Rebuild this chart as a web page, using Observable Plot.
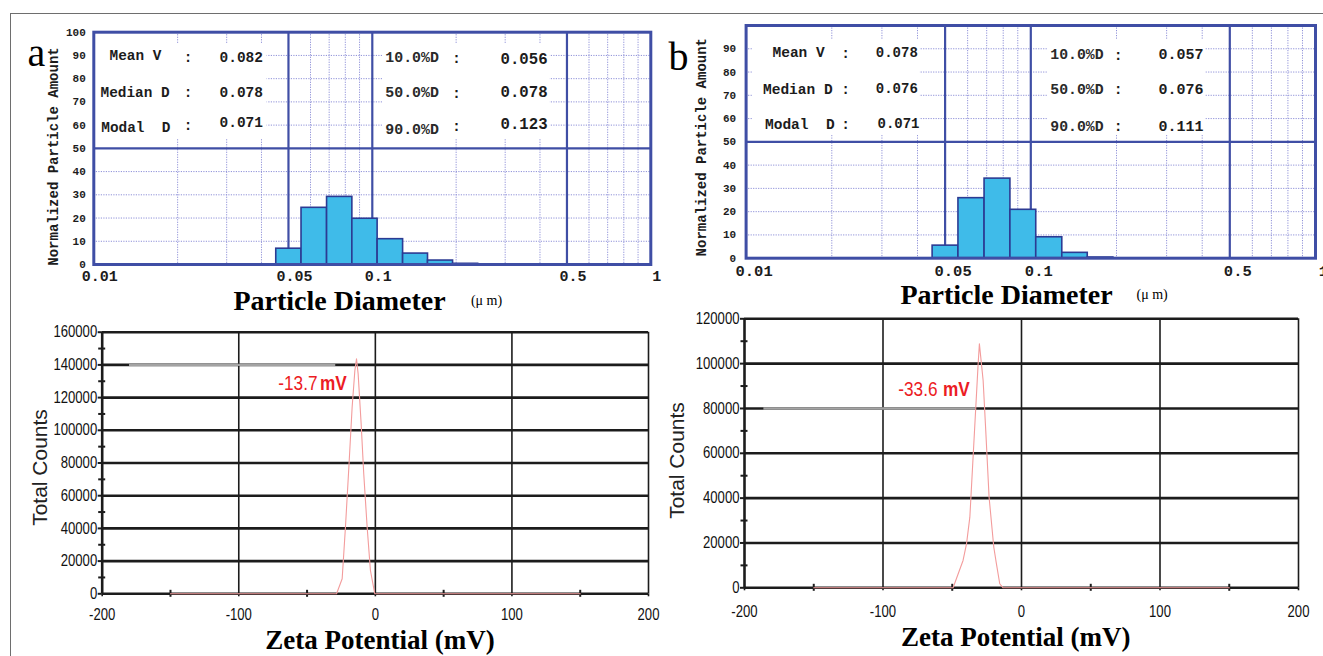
<!DOCTYPE html>
<html><head><meta charset="utf-8">
<script src="https://cdn.jsdelivr.net/npm/d3@7"></script>
<script src="https://cdn.jsdelivr.net/npm/@observablehq/plot@0.6"></script>
<style>
html,body{margin:0;padding:0;background:#fff;}
#wrap{position:relative;width:1323px;height:656px;overflow:hidden;background:#fff;}
#wrap svg{position:absolute;background:transparent !important;overflow:visible;}
#border{position:absolute;left:10px;top:13px;width:1400px;height:700px;border-top:1.5px solid #6e6e6e;border-left:1.5px solid #6e6e6e;pointer-events:none;}
</style></head><body><div id="wrap"></div><script>
// ---------- data ----------
const binEdges = [0.0452, 0.0557, 0.0688, 0.0848, 0.1045, 0.129, 0.1585, 0.195, 0.24];
const amountA = [6.8, 24.4, 29.1, 19.7, 10.9, 4.7, 1.7, 0.3];
const amountB = [5.4, 25.8, 34.2, 20.8, 9.0, 2.3, 0.3];
const psdTickValues = [0.01, 0.05, 0.1, 0.5, 1];
const psdMajorX = [0.05, 0.1, 0.5];
const psdMinorX = [0.02, 0.03, 0.04, 0.06, 0.07, 0.08, 0.09, 0.2, 0.3, 0.4, 0.6, 0.7, 0.8, 0.9];
const psdMajorY = [50];
const psdMinorY = [10, 20, 30, 40, 60, 70, 80, 90];
const psdYTicksA = [0, 10, 20, 30, 40, 50, 60, 70, 80, 90, 100];
const psdYTicksB = [0, 10, 20, 30, 40, 50, 60, 70, 80, 90];
const statLabelsLeft = ["Mean V", "Median D", "Modal\u00a0\u00a0D"];
const statLabelsRight = ["10.0%D", "50.0%D", "90.0%D"];
const statValuesALeft = ["0.082", "0.078", "0.071"];
const statValuesARight = ["0.056", "0.078", "0.123"];
const statValuesBLeft = ["0.078", "0.076", "0.071"];
const statValuesBRight = ["0.057", "0.076", "0.111"];
const statBoxesA = [{x1: 0.01, x2: 0.0419, y1: 54, y2: 95}, {x1: 0.1094, x2: 0.4356, y1: 54, y2: 95}];
const statBoxesB = [{x1: 0.0106, x2: 0.0409, y1: 52.7, y2: 93.6}, {x1: 0.1144, x2: 0.4116, y1: 52.7, y2: 93.6}];

const zetaA_mV =     [-150, -28.4, -24.3, -21.9, -19.4, -17.0, -15.0, -13.8, -12.6, -10.4, -8.5, -6.0, -3.6, -0.4, 150];
const zetaA_counts = [0, 0, 9200, 40700, 77400, 114100, 136600, 143700, 134500, 104000, 73400, 40700, 14250, 0, 0];
const zetaB_mV =     [-150, -49.4, -42.2, -39.7, -37.3, -31.3, -30.4, -29.6, -27.7, -25.8, -23.4, -20.0, -18.1, -15.7, -13.3, 150];
const zetaB_counts = [0, 0, 12200, 19600, 31500, 100000, 108800, 104000, 92500, 70000, 40400, 18100, 10700, 1800, 0, 0];
const zetaPeakA = "-13.7";
const zetaPeakB = "-33.6";
const zetaXTicks = [-200, -100, 0, 100, 200];
const zetaXMinor = [-150, -50, 50, 150];
const zetaVGrid = [-100, 0, 100, 200];
const zetaYTicksA = [0, 20000, 40000, 60000, 80000, 100000, 120000, 140000, 160000];
const zetaYMinorA = [10000, 30000, 50000, 70000, 90000, 110000, 130000, 150000];
const zetaYTicksB = [0, 20000, 40000, 60000, 80000, 100000, 120000];
const zetaYMinorB = [10000, 30000, 50000, 70000, 90000, 110000];
const fadedGridA = [{y: 140000, x1: -180, x2: -29}];
const fadedGridB = [{y: 80000, x1: -186, x2: -33}];

// ---------- styles ----------
const MONO = "'Liberation Mono', 'Courier New', monospace";
const SERIF = "'Liberation Serif', 'Times New Roman', serif";
const SANS = "'Liberation Sans', Arial, sans-serif";
const NARROW = "'Liberation Sans', Arimo, sans-serif"; // condensed below via scaleX
const BLUE = "#3f4ea5";
const DOT = "#8f91d8";
const INK = "#1c1c1c";
const RED = "#ec1c24";

const PA = {left: 0, top: 0, w: 665, h: 320, ml: 93.3, mt: 31.7, mr: 14.7, mb: 56};
const PB = {left: 665, top: 0, w: 658, h: 305, ml: 80.6, mt: 25, mr: 8, mb: 47.3};
const QA = {left: 0, top: 320, w: 665, h: 336, ml: 101.7, mt: 11.7, mr: 17, mb: 62.7};
const QB = {left: 665, top: 305, w: 658, h: 351, ml: 79, mt: 13.3, mr: 25, mb: 68.7};

function T(cfg, s, gx, gy, o) {
  return Plot.text([s], {text: d => d, frameAnchor: "top-left", textAnchor: "middle", lineAnchor: "middle",
    dx: gx - cfg.left - cfg.ml, dy: gy - cfg.top - cfg.mt, ...o});
}

function psdChart(cfg, amounts, yTicks, boxes, valsL, valsR, lay) {
  const bins = amounts.map((v, i) => ({x1: binEdges[i], x2: binEdges[i + 1], y1: 0, y2: v}));
  const statMarks = [];
  for (let i = 0; i < 3; i++) {
    statMarks.push(T(cfg, statLabelsLeft[i], lay.lLabelX[i], lay.lLabelY[i], {textAnchor: "start", fontFamily: MONO, fontWeight: "bold", fontSize: lay.fs[0], fill: INK}));
    statMarks.push(T(cfg, ":", lay.lColonX, lay.lColonY[i], {fontFamily: MONO, fontWeight: "bold", fontSize: lay.fs[0], fill: INK}));
    statMarks.push(T(cfg, valsL[i], lay.lValueX[i], lay.lValueY[i], {textAnchor: "start", fontFamily: MONO, fontWeight: "bold", fontSize: lay.fs[1], fill: INK}));
    statMarks.push(T(cfg, statLabelsRight[i], lay.rLabelX, lay.rLabelY[i], {textAnchor: "start", fontFamily: MONO, fontWeight: "bold", fontSize: lay.fs[2], fill: "#2a2a2a"}));
    statMarks.push(T(cfg, ":", lay.rColonX, lay.rColonY[i], {fontFamily: MONO, fontWeight: "bold", fontSize: lay.fs[2], fill: INK}));
    statMarks.push(T(cfg, valsR[i], lay.rValueX, lay.rValueY[i], {textAnchor: "start", fontFamily: MONO, fontWeight: "bold", fontSize: lay.fs[3], fill: INK}));
  }
  return Plot.plot({
    width: cfg.w, height: cfg.h,
    marginLeft: cfg.ml, marginTop: cfg.mt, marginRight: cfg.mr, marginBottom: cfg.mb,
    style: {background: "transparent", overflow: "visible"},
    x: {type: "log", domain: [0.01, 1], label: null, axis: null},
    y: {domain: [0, 100], label: null},
    marks: [
      Plot.ruleX(psdMinorX, {stroke: DOT, strokeWidth: 1, strokeDasharray: "1.2,1.3"}),
      Plot.ruleY(psdMinorY, {stroke: DOT, strokeWidth: 1, strokeDasharray: "1.2,1.3"}),
      Plot.rect(boxes, {x1: "x1", x2: "x2", y1: "y1", y2: "y2", fill: "white"}),
      Plot.ruleX(psdMajorX, {stroke: BLUE, strokeWidth: 2.2}),
      Plot.ruleY(psdMajorY, {stroke: BLUE, strokeWidth: 2.2}),
      Plot.rect(bins, {x1: "x1", x2: "x2", y1: "y1", y2: "y2", fill: "#3fbbe9", stroke: "#2c3b93", strokeWidth: 1.6}),
      Plot.frame({stroke: BLUE, strokeWidth: 3}),
      Plot.axisY(yTicks, {tickSize: 0, tickPadding: lay.yPad, fontFamily: MONO, fontWeight: "bold", fontSize: 11, fill: INK, label: null, tickFormat: d => String(d)}),
      Plot.text(psdTickValues, {x: d => d, text: d => String(d), frameAnchor: "bottom", textAnchor: "middle", lineAnchor: "top",
        dy: lay.xPad, dx: lay.xDx, fontFamily: MONO, fontWeight: "bold", fontSize: lay.xFs, fill: INK}),
      ...statMarks,
      T(cfg, "Normalized Particle Amount", lay.yTitle[0], lay.yTitle[1], {rotate: -90, fontFamily: MONO, fontWeight: "bold", fontSize: 14, fill: INK}),
      T(cfg, "Particle Diameter", lay.xTitle[0], lay.xTitle[1], {fontFamily: SERIF, fontWeight: "bold", fontSize: 28, fill: "#000"}),
      T(cfg, "(\u03bc m)", lay.unit[0], lay.unit[1], {fontFamily: SERIF, fontSize: 14, fill: "#000"}),
      T(cfg, lay.letter, lay.letterPos[0], lay.letterPos[1], {textAnchor: "start", fontFamily: SERIF, fontSize: 40, fill: "#000"})
    ]
  });
}

function zetaChart(cfg, mV, counts, yTicks, yMinor, ymax, faded, peak, lay) {
  const curve = mV.map((v, i) => ({mv: v, c: counts[i]}));
  return Plot.plot({
    width: cfg.w, height: cfg.h,
    marginLeft: cfg.ml, marginTop: cfg.mt, marginRight: cfg.mr, marginBottom: cfg.mb,
    style: {background: "transparent", overflow: "visible"},
    x: {domain: [-200, 200], label: null},
    y: {domain: [0, ymax], label: null},
    marks: [
      Plot.ruleX(zetaVGrid, {stroke: INK, strokeWidth: 1.6}),
      Plot.ruleY(yTicks, {stroke: INK, strokeWidth: 2.6}),
      Plot.ruleY(faded, {y: "y", x1: "x1", x2: "x2", stroke: "#a3a3a3", strokeWidth: 2.4}),
      Plot.ruleX([-200], {stroke: INK, strokeWidth: 2.6}),
      Plot.axisY(yTicks, {tickSize: 4, tickPadding: 1, strokeWidth: 2, stroke: INK, fontFamily: NARROW, fontSize: 16, fill: "#111", label: null, tickFormat: d => String(d)}),
      Plot.axisY(yMinor, {tickSize: 7, dx: 3.5, strokeWidth: 2, stroke: INK, label: null, tickFormat: () => ""}),
      Plot.axisX(zetaXTicks, {tickSize: 3, tickPadding: lay.xPad, strokeWidth: 1.6, stroke: INK, fontFamily: NARROW, fontSize: 16, fill: "#111", label: null, tickFormat: d => String(d)}),
      Plot.axisX(zetaXMinor, {tickSize: 7, dy: -3.5, strokeWidth: 2, stroke: INK, label: null, tickFormat: () => ""}),
      Plot.line(curve, {x: "mv", y: "c", stroke: "#f39c9c", strokeWidth: 1.1}),
      T(cfg, peak, lay.peakEnd, lay.peakY, {textAnchor: "end", fontFamily: NARROW, fontSize: 21, fill: RED}),
      T(cfg, "mV", lay.mvStart, lay.peakY, {textAnchor: "start", fontFamily: NARROW, fontWeight: "bold", fontSize: 21, fill: RED}),
      T(cfg, "Total Counts", lay.yTitle[0], lay.yTitle[1], {rotate: -90, fontFamily: SANS, fontSize: 21, fill: "#222"}),
      T(cfg, "Zeta Potential (mV)", lay.xTitle[0], lay.xTitle[1], {fontFamily: SERIF, fontWeight: "bold", fontSize: 27, fill: "#000"})
    ]
  });
}

// condense the narrow-font texts (no narrow face installed)
function condense(svg) {
  svg.querySelectorAll("g[font-family*='Arimo'] text").forEach(t => {
    const tr = t.getAttribute("transform");
    if (tr) {
      t.setAttribute("transform", tr + " scale(0.82,1)");
    } else {
      const x = +t.getAttribute("x") || 0, y = +t.getAttribute("y") || 0;
      t.setAttribute("x", 0); t.setAttribute("y", 0);
      t.setAttribute("transform", `translate(${x},${y}) scale(0.82,1)`);
    }
  });
  return svg;
}

const layPA = {
  fs: [14.4, 14.5, 14.9, 15.7],
  lLabelX: [109, 100, 100.8], lLabelY: [55, 91.7, 126.7], lColonX: 187.5, lColonY: [57, 92, 125],
  lValueX: [219, 219, 219], lValueY: [57, 91.7, 122],
  rLabelX: 384.8, rLabelY: [56.7, 91.7, 128.3], rColonX: 456, rColonY: [58, 93, 126],
  rValueX: 500, rValueY: [58.5, 91.7, 123.3],
  yPad: 8, xPad: 5.5, xDx: 6, xFs: 15,
  yTitle: [53.5, 156], xTitle: [339, 301], unit: [486, 300.5],
  letter: "a", letterPos: [27, 52.5]
};
const layPB = {
  fs: [14.5, 14, 14.8, 15],
  lLabelX: [772, 762.5, 764.5], lLabelY: [52.3, 89, 124], lColonX: 845, lColonY: [53, 89, 124],
  lValueX: [875.3, 875.3, 877], lValueY: [52, 88.5, 123.3],
  rLabelX: 1049.8, rLabelY: [54, 88.3, 126], rColonX: 1117.7, rColonY: [55, 89, 126],
  rValueX: 1158, rValueY: [54, 88.3, 125.3],
  yPad: 10, xPad: 7, xDx: 8, xFs: 15.5,
  yTitle: [701, 146.7], xTitle: [1006, 294.5], unit: [1151.6, 294],
  letter: "b", letterPos: [668, 57]
};
const layQA = {xPad: 12, peakEnd: 317, mvStart: 319.5, peakY: 382.5, yTitle: [40, 467], xTitle: [379.5, 639.4]};
const layQB = {xPad: 14.7, peakEnd: 937, mvStart: 942.5, peakY: 389.2, yTitle: [677, 460], xTitle: [1015.3, 636.4]};

const wrap = document.getElementById("wrap");
function place(svg, cfg) {
  svg.style.left = cfg.left + "px";
  svg.style.top = cfg.top + "px";
  wrap.appendChild(condense(svg));
}
place(psdChart(PA, amountA, psdYTicksA, statBoxesA, statValuesALeft, statValuesARight, layPA), PA);
place(psdChart(PB, amountB, psdYTicksB, statBoxesB, statValuesBLeft, statValuesBRight, layPB), PB);
place(zetaChart(QA, zetaA_mV, zetaA_counts, zetaYTicksA, zetaYMinorA, 160000, fadedGridA, zetaPeakA, layQA), QA);
place(zetaChart(QB, zetaB_mV, zetaB_counts, zetaYTicksB, zetaYMinorB, 120000, fadedGridB, zetaPeakB, layQB), QB);
const border = document.createElement("div");
border.id = "border";
wrap.appendChild(border);
</script></body></html>
